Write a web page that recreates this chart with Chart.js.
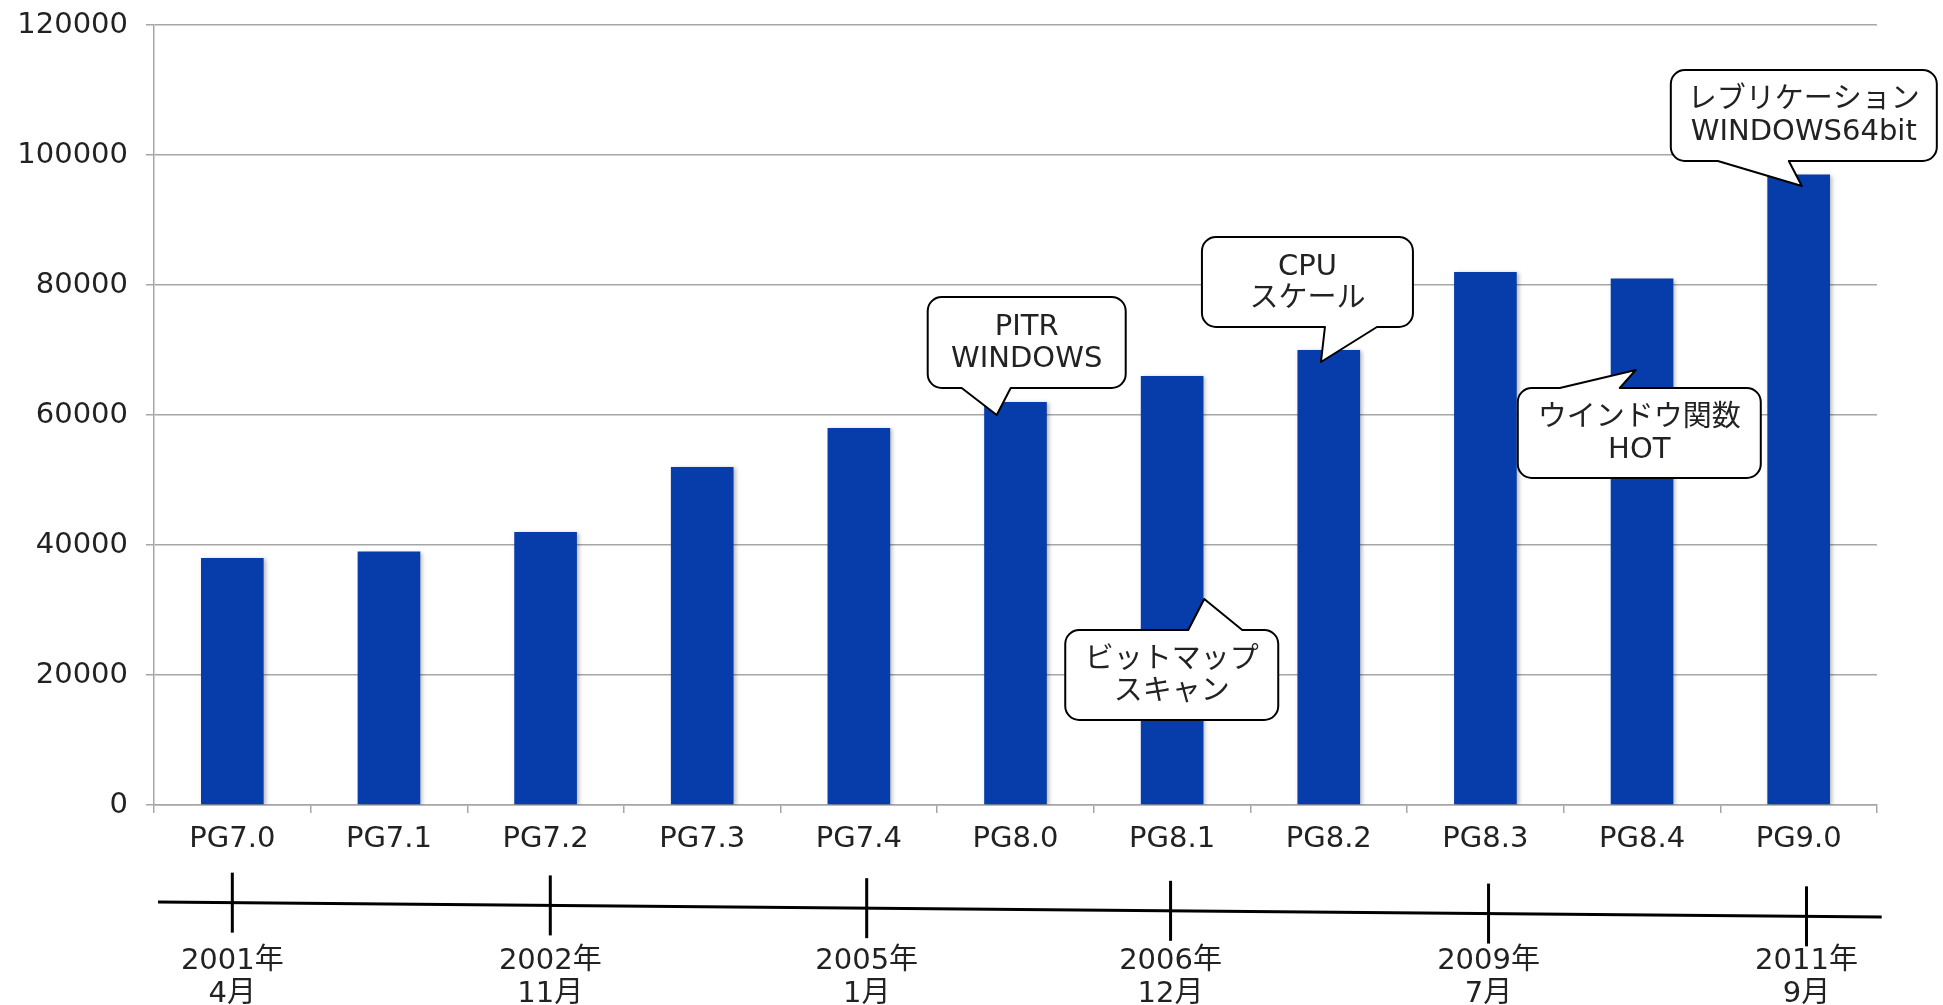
<!DOCTYPE html>
<html><head><meta charset="utf-8">
<script src="https://cdn.jsdelivr.net/npm/chart.js@4/dist/chart.umd.min.js"></script>
<style>html,body{margin:0;padding:0;background:#fff;overflow:hidden}#wrap{width:1943px;height:1005px}</style>
</head><body><div id="wrap"><canvas id="c" width="1943" height="1005"></canvas></div>
<script>
// ---- data ----
const categories = ['PG7.0','PG7.1','PG7.2','PG7.3','PG7.4','PG8.0','PG8.1','PG8.2','PG8.3','PG8.4','PG9.0'];
const values = [38000, 39000, 42000, 52000, 58000, 62000, 66000, 70000, 82000, 81000, 97000];
const yTicks = [0, 20000, 40000, 60000, 80000, 100000, 120000];
const timelineLabels = [['2001年','4月'], ['2002年','11月'], ['2005年','1月'], ['2006年','12月'], ['2009年','7月'], ['2011年','9月']];
const timelinePositions = [0, 2.03, 4.05, 5.99, 8.02, 10.05];
const calloutTexts = [['PITR','WINDOWS'], ['CPU','スケール'], ['ビットマップ','スキャン'], ['ウインドウ関数','HOT'], ['レブリケーション','WINDOWS64bit']];
const calloutTipIndex = [4.88, 6.95, 6.205, 8.96, 10.02];
const calloutTipValue = [60000, 68154, 31692, 66923, 95231];

// ---- styling / geometry ----
const FONT = '"DejaVu Sans", "Noto Sans CJK JP", sans-serif';
const TEXT = '#222222';
const GRID = '#A6A6A6';
const BAR = '#063DAA';
// callout boxes relative to tip (pixels): l,t,r,b, pointer side, base x0,x1
const calloutGeom = [
  {l:-69, t:-118, r:129, b:-27, side:'bottom', b0:-35, b1:14},
  {l:-119, t:-125, r:92, b:-35, side:'bottom', b0:4, b1:56},
  {l:-139, t:31, r:74, b:121, side:'top', b0:-16, b1:38},
  {l:-118, t:18, r:125, b:108, side:'top', b0:-76, b1:-16},
  {l:-131, t:-116, r:135, b:-25, side:'bottom', b0:-84, b1:-13}
];

const shadowPlugin = {
  id:'barShadow',
  beforeDatasetsDraw(chart){ const c=chart.ctx; c.save(); c.shadowColor='rgba(0,0,0,0.28)'; c.shadowBlur=4; c.shadowOffsetX=2; c.shadowOffsetY=1; },
  afterDatasetsDraw(chart){ chart.ctx.restore(); }
};

function calloutPath(c, x0, y0, x1, y1, r, side, tx, ty, bA, bB){
  c.beginPath();
  c.moveTo(x0 + r, y0);
  if (side === 'top'){ c.lineTo(bA, y0); c.lineTo(tx, ty); c.lineTo(bB, y0); }
  c.lineTo(x1 - r, y0);
  c.arcTo(x1, y0, x1, y0 + r, r);
  c.lineTo(x1, y1 - r);
  c.arcTo(x1, y1, x1 - r, y1, r);
  if (side === 'bottom'){ c.lineTo(bB, y1); c.lineTo(tx, ty); c.lineTo(bA, y1); }
  c.lineTo(x0 + r, y1);
  c.arcTo(x0, y1, x0, y1 - r, r);
  c.lineTo(x0, y0 + r);
  c.arcTo(x0, y0, x0 + r, y0, r);
  c.closePath();
}

const overlayPlugin = {
  id:'overlay',
  afterDraw(chart){
    const c = chart.ctx, xs = chart.scales.x, ys = chart.scales.y, bottom = chart.chartArea.bottom;
    c.save();
    // timeline
    const xa = xs.getPixelForValue(-0.474), xb = xs.getPixelForValue(10.53);
    const ya = bottom + 97, yb = bottom + 112;
    c.strokeStyle = '#000'; c.lineWidth = 3;
    c.beginPath(); c.moveTo(xa, ya); c.lineTo(xb, yb); c.stroke();
    c.font = '29px ' + FONT; c.fillStyle = TEXT; c.textAlign = 'center'; c.textBaseline = 'middle';
    timelinePositions.forEach((p, i) => {
      const x = xs.getPixelForValue(p);
      const y = ya + (yb - ya) * (x - xa) / (xb - xa);
      c.beginPath(); c.moveTo(x, y - 30); c.lineTo(x, y + 30); c.stroke();
      c.fillText(timelineLabels[i][0], x, bottom + 156);
      c.fillText(timelineLabels[i][1], x, bottom + 189);
    });
    // callouts
    calloutTexts.forEach((lines, i) => {
      const g = calloutGeom[i];
      const tx = xs.getPixelForValue(calloutTipIndex[i]);
      const ty = ys.getPixelForValue(calloutTipValue[i]);
      calloutPath(c, tx + g.l, ty + g.t, tx + g.r, ty + g.b, 14, g.side, tx, ty, tx + g.b0, tx + g.b1);
      c.fillStyle = '#fff'; c.fill();
      c.lineWidth = 2; c.strokeStyle = '#000'; c.lineJoin = 'round'; c.stroke();
      const cx = tx + (g.l + g.r) / 2, cy = ty + (g.t + g.b) / 2;
      c.fillStyle = TEXT; c.font = '29px ' + FONT;
      c.fillText(lines[0], cx, cy - 15);
      c.fillText(lines[1], cx, cy + 17);
    });
    c.restore();
  }
};

new Chart(document.getElementById('c'), {
  type: 'bar',
  data: { labels: categories, datasets: [{ data: values, backgroundColor: BAR, borderWidth: 0, barPercentage: 0.4, categoryPercentage: 1 }] },
  options: {
    responsive: false, animation: false, devicePixelRatio: 1,
    layout: { padding: { left: 0, right: 66, top: 25, bottom: 0 } },
    plugins: { legend: { display: false }, tooltip: { enabled: false } },
    scales: {
      x: {
        grid: { display: true, drawOnChartArea: false, drawTicks: true, tickLength: 8, color: GRID, lineWidth: 1.5, offset: true },
        border: { color: GRID, width: 1.5 },
        ticks: { font: { family: FONT, size: 29 }, color: TEXT, padding: 9, maxRotation: 0, autoSkip: false },
        afterFit(s) { s.height = 200; s.paddingLeft = 0; s.paddingRight = 0; }
      },
      y: {
        min: 0, max: 120000,
        afterBuildTicks(s) { s.ticks = yTicks.map(v => ({ value: v })); },
        ticks: { font: { family: FONT, size: 29 }, color: TEXT, padding: 18, callback: v => String(v) },
        grid: { color: GRID, lineWidth: 1.5, tickLength: 8 },
        border: { color: GRID, width: 1.5 },
        afterFit(s) { s.width = 154; s.paddingTop = 0; s.paddingBottom = 0; }
      }
    }
  },
  plugins: [shadowPlugin, overlayPlugin]
});
</script></body></html>
